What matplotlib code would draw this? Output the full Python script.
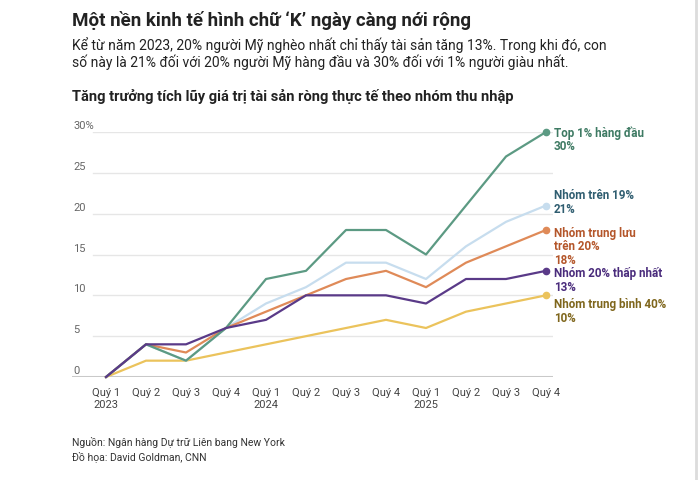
import matplotlib
matplotlib.use("Agg")
import matplotlib.pyplot as plt
from matplotlib.lines import Line2D

plt.rcParams['font.family'] = ['Roboto', 'DejaVu Sans']

# quarters 2023 Q1 .. 2025 Q4
quarters = ['Quý 1\n2023', 'Quý 2', 'Quý 3', 'Quý 4',
            'Quý 1\n2024', 'Quý 2', 'Quý 3', 'Quý 4',
            'Quý 1\n2025', 'Quý 2', 'Quý 3', 'Quý 4']

middle_40 = [0, 2, 2, 3, 4, 5, 6, 7, 6, 8, 9, 10]
upper_19 = [0, 4, 2, 6, 9, 11, 14, 14, 12, 16, 19, 21]
upper_middle_20 = [0, 4, 3, 6, 8, 10, 12, 13, 11, 14, 16, 18]
top_1 = [0, 4, 2, 6, 12, 13, 18, 18, 15, 21, 27, 30]
bottom_20 = [0, 4, 4, 6, 7, 10, 10, 10, 9, 12, 12, 13]

y_ticks = [0, 5, 10, 15, 20, 25, 30]
y_tick_labels = ['0', '5', '10', '15', '20', '25', '30%']

# (values, name, line colour, text colour, label offset in px, line step px)
series = [
    (middle_40, 'Nhóm trung bình 40%', '#ebc35c', '#7f661c', 8, 14),
    (upper_19, 'Nhóm trên 19%', '#c7ddee', '#2f5d70', -11, 14),
    (upper_middle_20, 'Nhóm trung lưu\ntrên 20%', '#df8a58', '#b4562a', 3, 13),
    (top_1, 'Top 1% hàng đầu', '#5c9a83', '#3e7a63', 0, 14),
    (bottom_20, 'Nhóm 20% thấp nhất', '#5a3a88', '#4a2c7c', 2, 14),
]

fig = plt.figure(figsize=(7, 4.81), dpi=100)
ax = fig.add_axes([72 / 700, 1 - 378 / 481, 481 / 700, 245 / 481])

x = list(range(len(quarters)))
for vals, name, col, tcol, dy, step in series:
    ax.plot(x, vals, color=col, linewidth=1.6, clip_on=False, zorder=3)
    ax.plot(x[-1], vals[-1], 'o', color=col, markersize=4.5, clip_on=False, zorder=4)
    lines = name.split('\n') + [f'{vals[-1]}%']
    for k, txt in enumerate(lines):
        ax.annotate(txt, xy=(x[-1], vals[-1]), xytext=(8, -dy - step * k),
                    textcoords='offset pixels', ha='left', va='center',
                    fontsize=8.4, fontweight='bold', color=tcol,
                    annotation_clip=False)

ax.set_xlim(-0.85, 11.175)
ax.set_ylim(0, 30)

# grid lines start right of the tick labels
for v in y_ticks[1:]:
    ax.axhline(v, xmin=0.044, xmax=1, color='#e6e6e6', linewidth=1, zorder=1)
ax.axhline(0, color='#c9c9c9', linewidth=2.2, zorder=2)

for v, lab in zip(y_ticks, y_tick_labels):
    ax.annotate(lab, xy=(0, v), xycoords=('axes fraction', 'data'),
                xytext=(1, 7), textcoords='offset pixels',
                ha='left', va='center', fontsize=8, color='#666666')

for s in ax.spines.values():
    s.set_visible(False)
ax.set_yticks([])
ax.set_xticks(x)
ax.set_xticklabels(quarters, fontsize=8, color='#444444', linespacing=1.25)
ax.tick_params(axis='x', length=0, pad=7)

fig.text(72 / 700, 1 - 21 / 481, 'Một nền kinh tế hình chữ ‘K’ ngày càng nới rộng',
         fontsize=13.5, fontweight='bold', color='#222222', va='center')
fig.text(72 / 700, 1 - 45 / 481,
         'Kể từ năm 2023, 20% người Mỹ nghèo nhất chỉ thấy tài sản tăng 13%. Trong khi đó, con',
         fontsize=10.0, color='#222222', va='center')
fig.text(72 / 700, 1 - 62 / 481,
         'số này là 21% đối với 20% người Mỹ hàng đầu và 30% đối với 1% người giàu nhất.',
         fontsize=10.0, color='#222222', va='center')
fig.text(72 / 700, 1 - 96 / 481, 'Tăng trưởng tích lũy giá trị tài sản ròng thực tế theo nhóm thu nhập',
         fontsize=10.5, fontweight='bold', color='#222222', va='center')

fig.text(72 / 700, 1 - 443 / 481, 'Nguồn: Ngân hàng Dự trữ Liên bang New York',
         fontsize=7.5, color='#333333', va='center')
fig.text(72 / 700, 1 - 457 / 481, 'Đồ họa: David Goldman, CNN',
         fontsize=7.5, color='#333333', va='center')

# thin border on the right edge of the graphic
fig.add_artist(Line2D([696 / 700, 696 / 700], [0, 1], color='#dcdcdc',
                      linewidth=2, transform=fig.transFigure))

fig.savefig('out.png', dpi=100)
